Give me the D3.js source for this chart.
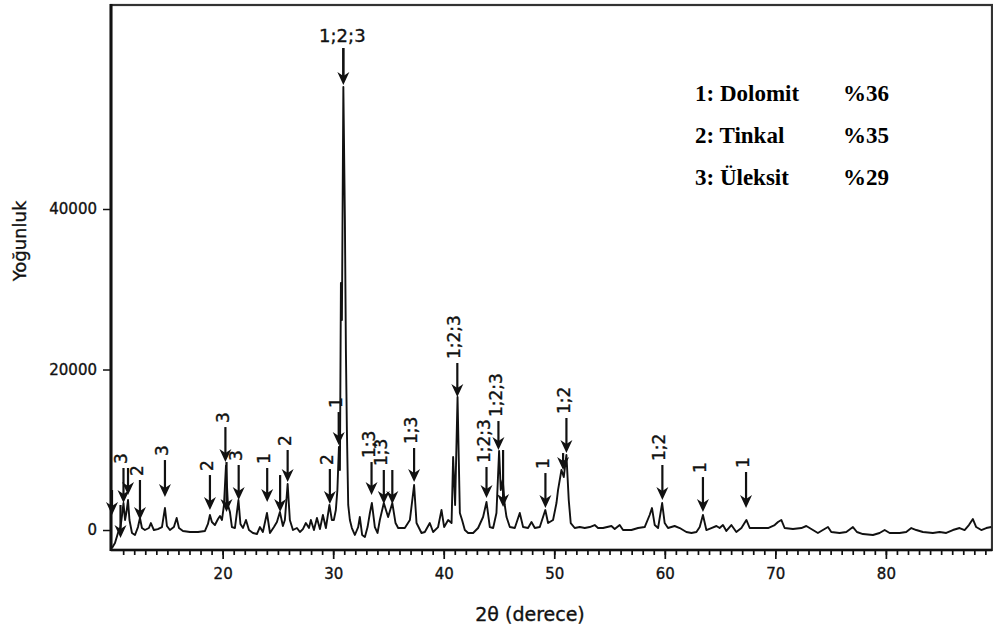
<!DOCTYPE html>
<html>
<head>
<meta charset="utf-8">
<script src="https://cdn.jsdelivr.net/npm/d3@7"></script>
<style>
  html, body { margin: 0; padding: 0; background: #fff; }
  svg { display: block; }
  .heavy { stroke: #111; stroke-width: 0.35px; paint-order: stroke; }
</style>
</head>
<body>
<svg id="chart" width="993" height="631"></svg>
<script>
// XRD pattern: 2θ (degrees) and intensity (counts)
const twoTheta = [
  9.99, 10.26, 10.53, 10.76, 10.90, 11.03, 11.17, 11.30, 11.44, 11.57, 11.80, 12.07, 12.34, 12.52, 12.70,
  12.97, 13.33, 13.51, 13.78, 14.14, 14.51, 14.78, 14.96, 15.23, 15.59, 15.84, 16.05, 16.41, 17.04, 17.77,
  18.40, 18.67, 18.85, 19.03, 19.30, 19.58, 19.76, 19.94, 20.12, 20.30, 20.48, 20.66, 20.84, 21.11, 21.43,
  21.61, 21.84, 22.11, 22.38, 22.74, 23.10, 23.37, 23.64, 24.01, 24.28, 24.64, 24.91, 25.18, 25.45, 25.63,
  25.88, 26.08, 26.36, 26.72, 26.99, 27.26, 27.53, 27.81, 27.98, 28.26, 28.53, 28.80, 29.07, 29.34, 29.66,
  29.88, 30.06, 30.24, 30.38, 30.52, 30.61, 30.70, 30.79, 30.92, 31.06, 31.15, 31.24, 31.36, 31.51, 31.69,
  31.96, 32.26, 32.41, 32.62, 32.87, 33.11, 33.32, 33.50, 33.77, 34.01, 34.22, 34.58, 34.97, 35.35, 35.64,
  35.88, 36.48, 36.94, 37.32, 37.54, 37.99, 38.29, 38.74, 39.04, 39.49, 39.80, 40.04, 40.40, 40.71, 40.85,
  41.03, 41.25, 41.46, 41.66, 41.91, 42.21, 42.66, 43.11, 43.56, 43.87, 44.17, 44.47, 44.77, 45.01, 45.16,
  45.34, 45.52, 45.68, 45.98, 46.43, 46.88, 47.18, 47.63, 47.94, 48.24, 48.69, 49.19, 49.44, 49.89, 50.20,
  50.34, 50.65, 50.86, 51.10, 51.31, 51.49, 51.85, 52.31, 52.76, 53.21, 53.66, 53.96, 54.41, 55.17, 55.47,
  55.92, 56.22, 56.98, 57.58, 58.18, 58.63, 58.84, 59.09, 59.39, 59.76, 59.99, 60.29, 60.89, 61.35, 61.95,
  62.41, 62.86, 63.16, 63.45, 63.76, 64.21, 64.67, 64.96, 65.26, 65.57, 66.02, 66.47, 66.93, 67.38, 67.68,
  68.43, 69.34, 69.94, 70.24, 70.54, 70.84, 71.59, 72.35, 72.80, 73.25, 73.85, 74.30, 74.76, 75.06, 75.81,
  76.42, 77.02, 77.38, 77.92, 78.83, 79.43, 79.89, 80.34, 81.24, 81.84, 82.30, 82.75, 83.35, 84.25, 84.86,
  85.46, 86.06, 86.67, 87.12, 87.51, 87.87, 88.17, 88.63, 89.08, 89.53
];
const intensity = [
  -2240, -1620, -370, 370, 1870, 3360, 1250, 2240, 3740, 1250, -370, -620, 370, 1500, 250,
  0, 250, 870, 0, 120, 370, 2740, 500, 0, 370, 1500, 250, -120, -250, -250,
  -120, 750, 1870, 1000, 620, 1370, 1740, 1250, 3120, 8000, 3120, 2240, 370, 250, 3740,
  750, 250, 1250, 0, -370, -500, 370, -250, 2120, -370, 370, 1000, 2240, 500, 1250,
  5730, 1250, 0, 250, -250, 120, 870, 250, 1250, 0, 1500, 120, 1870, 250, 3120,
  1250, 1250, 2490, 4980, 10340, 7480, 30780, 26170, 55200, 38630, 22430, 12460, 3120, 1250, 250,
  -620, 370, 1620, -620, -870, 370, 2120, 3360, 370, -370, 1250, 3360, 1620, 3360, 870,
  250, 250, 1250, 5610, 870, -370, -250, 870, -250, 370, 2490, 370, 1250, 870, 9100,
  3120, 16570, 2120, 1250, 0, -370, -370, 250, 1620, 3490, 370, 250, 2120, 9840, 4980,
  6230, 3120, 1620, 370, 250, 2120, 370, 250, 1000, 250, 370, 2490, 870, 1250, 3360,
  4980, 7480, 6600, 9350, 3740, 870, 250, 370, 250, 370, 620, 250, 250, 500, 120,
  620, 0, 0, 250, 370, 1870, 2740, 620, 250, 3360, 870, 250, 500, 250, -250,
  -370, -250, 370, 1870, 0, 250, 500, 250, 620, -120, 620, -250, 250, 1250, 250,
  250, 250, 620, 1000, 1250, 250, 120, 250, 500, 120, -370, 0, 370, -250, -370,
  -250, 370, -250, -500, -620, -370, 0, -370, -370, -250, 250, 0, -250, -370, -250,
  -370, 0, 250, 0, 620, 1370, 370, 0, 250, 370
];

// Phase markers: 2θ position, arrow tip / tail intensity and phase label
const markerTheta = [9.99, 10.76, 11.03, 11.44, 12.52, 14.78, 18.85, 20.25, 20.35, 21.45, 24.03, 25.20, 25.88, 29.70, 30.50,
  33.47, 34.58, 35.35, 37.32, 41.23, 43.87, 44.95, 45.37, 49.20, 50.80, 51.10, 59.78, 63.45, 67.35];
const markerTip = [1870, -1000, 3360, 4360, 1250, 4110, 2490, 8470, 2240, 3740, 3490, 2240, 5980, 3240, 10590,
  4360, 3240, 3240, 5980, 16570, 3990, 9970, 2870, 2740, 7480, 9590, 3740, 2240, 2740];
const markerTail = [4980, 3120, 7730, 7730, 6230, 8720, 6850, 12830, 8470, 8100, 7730, 6850, 9970, 7600, 14700,
  8470, 7480, 7480, 10220, 20810, 7850, 13580, 9970, 7100, 9590, 13960, 8100, 6600, 7230];
const markerLabel = ["", "", "3", "", "2", "3", "2", "3", "", "3", "1", "", "2", "2", "1",
  "1;3", "1;3", "", "1;3", "1;2;3", "1;2;3", "1;2;3", "", "1", "", "1;2", "1;2", "1", "1"];

// Strongest reflection, labelled horizontally above the peak
const mainTheta = 30.92;
const mainTip = 55450;
const mainTail = 60060;
const mainLabel = "1;2;3";

// Axis ticks and titles
const xTickValues = [20, 30, 40, 50, 60, 70, 80];
const yTickValues = [0, 20000, 40000];
const xTitle = "2θ (derece)";
const yTitle = "Yoğunluk";

// Phase composition
const phaseNames = ["1: Dolomit", "2: Tinkal", "3: Üleksit"];
const phaseShares = ["%36", "%35", "%29"];

const svg = d3.select("#chart");
const plotL = 111, plotR = 992, plotT = 5, plotB = 550;

const x = d3.scaleLinear().domain([9.9, 89.6]).range([plotL, plotR]);
const y = d3.scaleLinear().domain([-2490, 65420]).range([plotB, plotT]);

const sans = "'DejaVu Sans', Verdana, sans-serif";

// frame
svg.append("rect")
  .attr("x", plotL).attr("y", plotT)
  .attr("width", plotR - plotL).attr("height", plotB - plotT)
  .attr("fill", "none").attr("stroke", "#333").attr("stroke-width", 2.2);

// x axis: minor ticks every degree, labelled majors every 10
const xMinor = d3.axisBottom(x).tickValues(d3.range(11, 90)).tickSize(5).tickFormat("");
svg.append("g").attr("transform", `translate(0,${plotB})`).call(xMinor)
  .call(g => g.select(".domain").remove())
  .call(g => g.selectAll("line").attr("stroke", "#111").attr("stroke-width", 1.7));

const xMajor = d3.axisBottom(x).tickValues(xTickValues).tickSize(9).tickPadding(9);
svg.append("g").attr("transform", `translate(0,${plotB})`).call(xMajor)
  .call(g => g.select(".domain").remove())
  .call(g => g.selectAll("line").attr("stroke", "#111").attr("stroke-width", 1.7))
  .call(g => g.selectAll("text").attr("class", "heavy").attr("font-family", sans).attr("font-size", 15).attr("fill", "#111"));

// y axis
const yAxis = d3.axisLeft(y).tickValues(yTickValues).tickSize(8).tickPadding(6).tickFormat(d3.format("d"));
svg.append("g").attr("transform", `translate(${plotL},0)`).call(yAxis)
  .call(g => g.select(".domain").remove())
  .call(g => g.selectAll("line").attr("stroke", "#111").attr("stroke-width", 1.5))
  .call(g => g.selectAll("text").attr("class", "heavy").attr("font-family", sans).attr("font-size", 15).attr("fill", "#111"));

// heavier left and bottom axis lines
svg.append("line").attr("x1", plotL).attr("x2", plotL).attr("y1", plotT - 1).attr("y2", plotB + 1)
  .attr("stroke", "#111").attr("stroke-width", 3);
svg.append("line").attr("x1", plotL).attr("x2", plotR).attr("y1", plotB).attr("y2", plotB)
  .attr("stroke", "#111").attr("stroke-width", 2.5);

// diffraction trace
const points = twoTheta.map((t, i) => [t, intensity[i]]);
svg.append("path")
  .datum(points)
  .attr("fill", "none")
  .attr("stroke", "#111")
  .attr("stroke-width", 1.9)
  .attr("stroke-linejoin", "round")
  .attr("d", d3.line().x(d => x(d[0])).y(d => y(d[1])));

// arrow markers
const headLen = 13, headHalf = 6, notch = 9;
function arrow(g, t, tip, tail, sw) {
  const px = x(t), yTip = y(tip), yTail = y(tail);
  g.append("line")
    .attr("x1", px).attr("x2", px)
    .attr("y1", yTail).attr("y2", yTip - notch + 1)
    .attr("stroke", "#111").attr("stroke-width", sw);
  g.append("path")
    .attr("d", `M${px},${yTip} L${px - headHalf},${yTip - headLen} L${px},${yTip - notch} L${px + headHalf},${yTip - headLen} Z`)
    .attr("fill", "#111");
}

const markers = svg.append("g");
markerTheta.forEach((t, i) => {
  arrow(markers, t, markerTip[i], markerTail[i], 2.2);
  if (markerLabel[i]) {
    const px = x(t) - 3, py = y(markerTail[i]) - 4;
    markers.append("text")
      .attr("class", "heavy")
      .attr("transform", `translate(${px},${py}) rotate(-90)`)
      .attr("dy", "0.36em")
      .attr("text-anchor", "start")
      .attr("font-family", sans)
      .attr("font-size", 17)
      .attr("fill", "#111")
      .text(markerLabel[i]);
  }
});

arrow(markers, mainTheta, mainTip, mainTail, 2.6);
markers.append("text")
  .attr("class", "heavy")
  .attr("x", x(mainTheta) - 1).attr("y", y(mainTail) - 6)
  .attr("text-anchor", "middle")
  .attr("font-family", sans).attr("font-size", 18).attr("fill", "#111")
  .text(mainLabel);

// axis titles
svg.append("text")
  .attr("class", "heavy")
  .attr("x", 530).attr("y", 621)
  .attr("text-anchor", "middle")
  .attr("font-family", sans).attr("font-size", 19).attr("fill", "#111")
  .text(xTitle);

svg.append("text")
  .attr("class", "heavy")
  .attr("transform", "translate(26,241) rotate(-90)")
  .attr("text-anchor", "middle")
  .attr("font-family", sans).attr("font-size", 18).attr("fill", "#111")
  .text(yTitle);

// phase composition legend
const legend = svg.append("g")
  .attr("font-family", "'Liberation Serif', 'Times New Roman', serif")
  .attr("font-weight", "bold").attr("font-size", 23).attr("fill", "#000");
phaseNames.forEach((name, i) => {
  legend.append("text").attr("x", 695).attr("y", 101 + i * 42).text(name);
  legend.append("text").attr("x", 843).attr("y", 101 + i * 42).text(phaseShares[i]);
});
</script>
</body>
</html>
